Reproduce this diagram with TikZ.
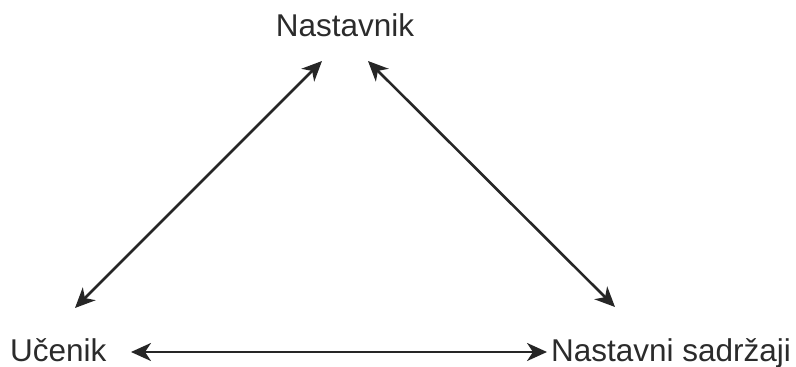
\documentclass[tikz,border=0pt]{standalone}
\usepackage{fontspec}
\setmainfont{Liberation Sans}
\usetikzlibrary{arrows.meta}
\definecolor{txt}{HTML}{2B2B2B}
\begin{document}
\begin{tikzpicture}[x=1pt,y=1pt,
  lbl/.style={inner sep=0pt,text=txt,font=\fontsize{31.5}{36}\selectfont},
  conn/.style={line width=2.6pt,draw=black!85,{Stealth[length=20pt,width=18pt,inset=6pt]}-{Stealth[length=20pt,width=18pt,inset=6pt]}}]
\useasboundingbox (0,0) rectangle (796,367);
\node[lbl,anchor=base] (nast) at (345,330) {Nastavnik};
\node[lbl,anchor=base west] (ucen) at (10,5) {Učenik};
\node[lbl,anchor=base west] (sadr) at (551,5) {Nastavni sadržaji};
\coordinate (nl) at (322,306);
\coordinate (nr) at (368,306);
\coordinate (ul) at (75,59);
\coordinate (sr) at (615,60);
\coordinate (uh) at (131,15);
\coordinate (sh) at (547,15);
\draw[conn] (ul) -- (nl);
\draw[conn] (nr) -- (sr);
\draw[conn] (uh) -- (sh);
\end{tikzpicture}
\end{document}
